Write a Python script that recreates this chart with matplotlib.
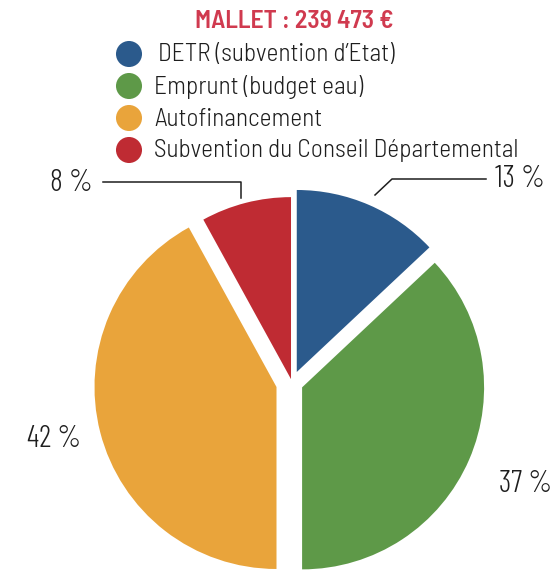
import matplotlib.pyplot as plt

# data
title = "MALLET : 239 473 €"
categories = ["DETR (subvention d\u2019Etat)", "Emprunt (budget eau)",
              "Autofinancement", "Subvention du Conseil Départemental"]
shares = [13, 37, 42, 8]
colors = ["#2b5a8c", "#5e9948", "#e9a43b", "#bf2b33"]

W, H = 556, 570
FONT = ["Barlow Condensed", "DejaVu Sans"]
FONT_SEMI = ["Barlow Semi Condensed", "Barlow Condensed", "DejaVu Sans"]
INK = "#1e1e1e"

fig = plt.figure(figsize=(W / 100, H / 100), dpi=100)
ax = fig.add_axes([0, 0, 1, 1])

def py(y):
    # pixel row (from top) -> data y (from bottom)
    return H - y

# explode is in data units here (pixels)
ax.pie(shares, colors=colors, explode=[12, 11, 16, 4], startangle=90,
       counterclock=False, center=(292, py(383)), radius=182,
       wedgeprops=dict(linewidth=0))

ax.set_xlim(0, W)
ax.set_ylim(0, H)
ax.set_aspect("equal")
ax.axis("off")

# title
ax.text(294, py(22), title, ha="center", va="center", fontsize=18.5,
        fontweight=600, color="#d03a4f", family=FONT_SEMI)

# legend
leg_y = [54, 86, 118, 150]
leg_x = [158, 154, 154, 154]
for name, c, x, y in zip(categories, colors, leg_x, leg_y):
    ax.scatter([129], [py(y)], s=26 ** 2 * 0.52, color=c, edgecolors="none")
    ax.text(x, py(y + 1), name, ha="left", va="center", fontsize=18.3,
            fontweight=300, color=INK, family=FONT_SEMI)

# percentage labels
lab_pos = [(545, 179, "right"), (552, 484, "right"), (27, 439, "left"), (93, 183, "right")]
for v, (x, y, ha) in zip(shares, lab_pos):
    ax.text(x, py(y), f"{v} %", ha=ha, va="center", fontsize=22,
            fontweight=300, color=INK, family=FONT)

# leader lines
ax.plot([103, 241, 241], [py(182), py(182), py(198)], color=INK, lw=1.1)
ax.plot([375, 392, 486], [py(195), py(179), py(179)], color=INK, lw=1.1)

fig.savefig("out.png", dpi=100)
